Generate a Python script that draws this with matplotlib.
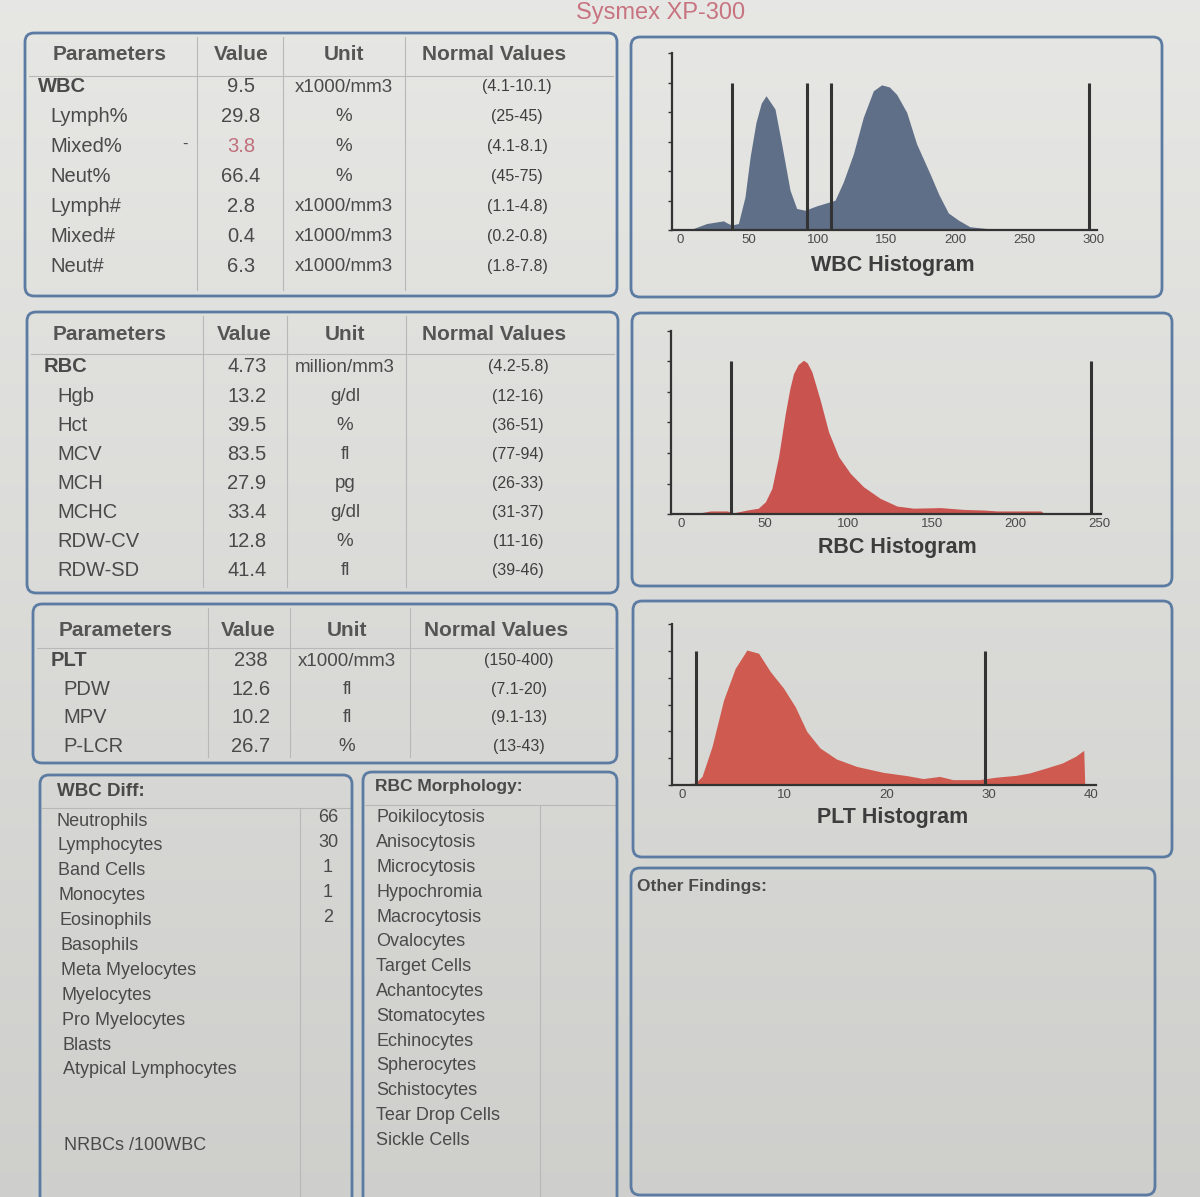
import numpy as np
import matplotlib
matplotlib.use('Agg')
import matplotlib.pyplot as plt
from matplotlib.patches import FancyBboxPatch

plt.rcParams['font.family'] = ['Liberation Sans', 'DejaVu Sans']

# ---- report values ----
wbc_params = ['WBC', 'Lymph%', 'Mixed%', 'Neut%', 'Lymph#', 'Mixed#', 'Neut#']
wbc_values = ['9.5', '29.8', '3.8', '66.4', '2.8', '0.4', '6.3']
wbc_units = ['x1000/mm3', '%', '%', '%', 'x1000/mm3', 'x1000/mm3', 'x1000/mm3']
wbc_normal = ['(4.1-10.1)', '(25-45)', '(4.1-8.1)', '(45-75)', '(1.1-4.8)', '(0.2-0.8)', '(1.8-7.8)']

rbc_params = ['RBC', 'Hgb', 'Hct', 'MCV', 'MCH', 'MCHC', 'RDW-CV', 'RDW-SD']
rbc_values = ['4.73', '13.2', '39.5', '83.5', '27.9', '33.4', '12.8', '41.4']
rbc_units = ['million/mm3', 'g/dl', '%', 'fl', 'pg', 'g/dl', '%', 'fl']
rbc_normal = ['(4.2-5.8)', '(12-16)', '(36-51)', '(77-94)', '(26-33)', '(31-37)', '(11-16)', '(39-46)']

plt_params = ['PLT', 'PDW', 'MPV', 'P-LCR']
plt_values = ['238', '12.6', '10.2', '26.7']
plt_units = ['x1000/mm3', 'fl', 'fl', '%']
plt_normal = ['(150-400)', '(7.1-20)', '(9.1-13)', '(13-43)']

diff_names = ['Neutrophils', 'Lymphocytes', 'Band Cells', 'Monocytes', 'Eosinophils',
              'Basophils', 'Meta Myelocytes', 'Myelocytes', 'Pro Myelocytes', 'Blasts',
              'Atypical Lymphocytes']
diff_counts = ['66', '30', '1', '1', '2']

morph_names = ['Poikilocytosis', 'Anisocytosis', 'Microcytosis', 'Hypochromia',
               'Macrocytosis', 'Ovalocytes', 'Target Cells', 'Achantocytes',
               'Stomatocytes', 'Echinocytes', 'Spherocytes', 'Schistocytes',
               'Tear Drop Cells', 'Sickle Cells']

# histogram curves
wbc_x = [0, 9.7, 19.4, 31.5, 35, 37.7, 42.4, 47.2, 51, 55.2, 59, 62.5, 69, 73.8, 79.9, 84.7, 90.8,
         99.3, 106.5, 112.6, 118.6, 125.9, 133.1, 140.4, 146.4, 152, 157.3, 164.6, 171.8, 181.5,
         188, 194.8, 202, 210.5, 225, 242, 300]
wbc_y = [0, 0.05, 0.22, 0.31, 0.22, 0.17, 0.22, 1.12, 2.5, 3.65, 4.3, 4.55, 4.1, 2.92, 1.35, 0.73, 0.67,
         0.82, 0.92, 1.01, 1.63, 2.58, 3.82, 4.72, 4.92, 4.85, 4.6, 3.99, 2.92, 1.91,
         1.2, 0.58, 0.34, 0.11, 0.04, 0, 0]
wbc_marks = [38, 92, 110, 297]

rbc_x = [0, 9.6, 17.6, 27.5, 31.5, 39.5, 46.2, 50.4, 54.3, 58.3, 62.3, 65, 67.2, 70, 73.2, 75.5,
         78.2, 83.2, 88.2, 94.2, 101.2, 109.1, 119.1, 129.1, 139, 155, 169, 181, 189, 215, 217, 245]
rbc_y = [0, 0.02, 0.1, 0.1, 0.04, 0.13, 0.19, 0.4, 0.84, 1.88, 3.29, 4.1, 4.6, 4.9, 5.04, 4.95,
         4.66, 3.73, 2.69, 1.88, 1.33, 0.89, 0.51, 0.26, 0.19, 0.21, 0.15, 0.13, 0.1, 0.1, 0.02, 0]
rbc_marks = [30, 245]

plt_x = [0, 1.3, 1.96, 2.94, 4.07, 5.21, 6.35, 7.49, 8.63, 9.93, 11.07, 12.2, 13.5, 15.1, 17.1,
         19.7, 22, 23.6, 25.2, 26.5, 29.1, 30.7, 32.7, 34, 35.6, 37.2, 38.5, 39.3, 39.4]
plt_y = [0.04, 0.07, 0.32, 1.44, 3.17, 4.35, 5.03, 4.91, 4.23, 3.61, 2.92, 2.0, 1.38, 0.97, 0.69,
         0.47, 0.35, 0.24, 0.32, 0.2, 0.2, 0.29, 0.36, 0.45, 0.63, 0.82, 1.07, 1.29, 0]
plt_marks = [1.35, 29.6]

W, H = 1200, 1197
fig = plt.figure(figsize=(W / 100, H / 100), dpi=100)
bg = fig.add_axes([0, 0, 1, 1])
bg.set_xlim(0, W)
bg.set_ylim(H, 0)
bg.axis('off')

# paper background, lighter at the top
grad = np.linspace(0, 1, 200).reshape(-1, 1)
top = np.array([0.905, 0.905, 0.895])
bot = np.array([0.81, 0.81, 0.80])
img = top + (bot - top) * grad[..., None]
bg.imshow(img, extent=[0, W, H, 0], aspect='auto', zorder=0)

border = '#5b7ba3'
ink = '#4a4a4a'
rule = '#b8b8b8'


def box(x0, y0, x1, y1):
    p = FancyBboxPatch((x0, y0), x1 - x0, y1 - y0,
                       boxstyle='round,pad=0,rounding_size=9',
                       fc='none', ec=border, lw=2, zorder=3)
    bg.add_patch(p)


def table(x0, y0, x1, y1, head_y, head_line, head_cx, cols, row0, step,
          first_x, name_x, val_cx, unit_cx, norm_cx, names, values, units, normal):
    box(x0, y0, x1, y1)
    for c in cols:
        bg.plot([c, c], [y0 + 4, y1 - 6], color=rule, lw=0.8, zorder=2)
    bg.plot([x0 + 4, x1 - 4], [head_line, head_line], color=rule, lw=0.8, zorder=2)
    for lab, cx in zip(['Parameters', 'Value', 'Unit', 'Normal Values'], head_cx):
        bg.text(cx, head_y, lab, ha='center', va='center', fontsize=15,
                fontweight='bold', color='#555555', zorder=4)
    for i in range(len(names)):
        y = row0 + i * step
        if i == 0:
            bg.text(first_x, y, names[i], ha='left', va='center', fontsize=14.5,
                    fontweight='bold', color=ink, zorder=4)
        else:
            bg.text(name_x, y, names[i], ha='left', va='center', fontsize=14.5,
                    color=ink, zorder=4)
        bg.text(val_cx, y, values[i], ha='center', va='center', fontsize=14.5,
                color=ink, zorder=4)
        bg.text(unit_cx, y, units[i], ha='center', va='center', fontsize=13.5,
                color=ink, zorder=4)
        bg.text(norm_cx, y, normal[i], ha='center', va='center', fontsize=11.5,
                color='#3f3f3f', zorder=4)


# title
bg.text(661, 2, 'Sysmex XP-300', ha='center', va='top', fontsize=17,
        color='#c77480', zorder=4)

table(25, 33, 617, 296, 55, 76, [110, 241, 344, 494], [197, 283, 405], 87, 29.9,
      38, 50, 241, 344, 517, wbc_params, wbc_values, wbc_units, wbc_normal)
table(27, 312, 618, 593, 335, 354, [110, 244, 345, 494], [203, 287, 406], 367, 29.1,
      44, 57, 247, 345, 518, rbc_params, rbc_values, rbc_units, rbc_normal)
table(33, 604, 617, 763, 630, 648, [116, 248, 347, 496], [208, 290, 410], 661, 28.4,
      51, 63, 251, 347, 519, plt_params, plt_values, plt_units, plt_normal)

# low Mixed% flag
low = wbc_params.index('Mixed%')
for t in bg.texts:
    if t.get_text() == wbc_values[low] and abs(t.get_position()[1] - (87 + low * 29.9)) < 1:
        t.set_color('#c0707c')
bg.text(185, 87 + low * 29.9 - 2, '-', ha='center', va='center', fontsize=12, color=ink, zorder=4)

# WBC differential
box(40, 775, 352, 1215)
bg.plot([42, 350], [808, 808], color=rule, lw=0.8, zorder=2)
bg.plot([300, 300], [808, 1197], color=rule, lw=0.8, zorder=2)
bg.text(57, 791, 'WBC Diff:', ha='left', va='center', fontsize=13.5,
        fontweight='bold', color='#4a4a4a', zorder=4)
for i, name in enumerate(diff_names):
    bg.text(57 + i * 0.6, 821 + i * 24.9, name, ha='left', va='center', fontsize=13,
            color=ink, zorder=4)
for i, n in enumerate(diff_counts):
    bg.text(328, 818 + i * 24.8, n, ha='center', va='center', fontsize=13,
            color=ink, zorder=4)
bg.text(64, 1145, 'NRBCs /100WBC', ha='left', va='center', fontsize=13,
        color=ink, zorder=4)

# RBC morphology
box(363, 772, 617, 1215)
bg.plot([365, 615], [805, 805], color=rule, lw=0.8, zorder=2)
bg.plot([540, 540], [805, 1197], color=rule, lw=0.8, zorder=2)
bg.text(375, 787, 'RBC Morphology:', ha='left', va='center', fontsize=12.5,
        fontweight='bold', color='#4a4a4a', zorder=4)
for i, name in enumerate(morph_names):
    bg.text(376, 818 + i * 24.8, name, ha='left', va='center', fontsize=13,
            color=ink, zorder=4)

# other findings
box(631, 868, 1155, 1195)
bg.text(637, 887, 'Other Findings:', ha='left', va='center', fontsize=12.5,
        fontweight='bold', color='#4a4a4a', zorder=4)

# histogram frames
box(631, 37, 1162, 297)
box(632, 313, 1172, 586)
box(633, 601, 1172, 857)


def histo(px0, px1, py0, py1, xlim, xs, ys, marks, ticks, color, title, title_y, title_x):
    ax = fig.add_axes([px0 / W, 1 - py1 / H, (px1 - px0) / W, (py1 - py0) / H])
    ax.set_facecolor('none')
    ax.fill_between(xs, ys, 0, color=color, lw=0, zorder=2)
    ax.vlines(marks, 0, 5, color='#333333', lw=2.2, zorder=3)
    ax.set_xlim(*xlim)
    ax.set_ylim(0, 6)
    for s in ['top', 'right']:
        ax.spines[s].set_visible(False)
    for s in ['left', 'bottom']:
        ax.spines[s].set_color('#333333')
        ax.spines[s].set_linewidth(1.6)
    ax.set_yticks(range(7))
    ax.set_yticklabels([])
    ax.tick_params(axis='y', length=3, width=1, color='#333333', direction='out')
    ax.set_xticks(ticks)
    ax.tick_params(axis='x', length=0, labelsize=9.5, labelcolor='#4a4a4a', pad=3)
    bg.text(title_x, title_y, title, ha='center', va='center', fontsize=15.5,
            fontweight='bold', color='#3d3d3d', zorder=4)
    return ax


histo(672, 1097, 53, 230, (-5.8, 302.8), wbc_x, wbc_y, wbc_marks,
      [0, 50, 100, 150, 200, 250, 300], '#5f6f88', 'WBC Histogram', 265, 893)
histo(671, 1101, 331, 514, (-6, 251), rbc_x, rbc_y, rbc_marks,
      [0, 50, 100, 150, 200, 250], '#c9534f', 'RBC Histogram', 548, 897)
histo(672, 1096, 624, 785, (-0.98, 40.5), plt_x, plt_y, plt_marks,
      [0, 10, 20, 30, 40], '#cf5a4f', 'PLT Histogram', 817, 893)

fig.savefig('out.png', dpi=100)
